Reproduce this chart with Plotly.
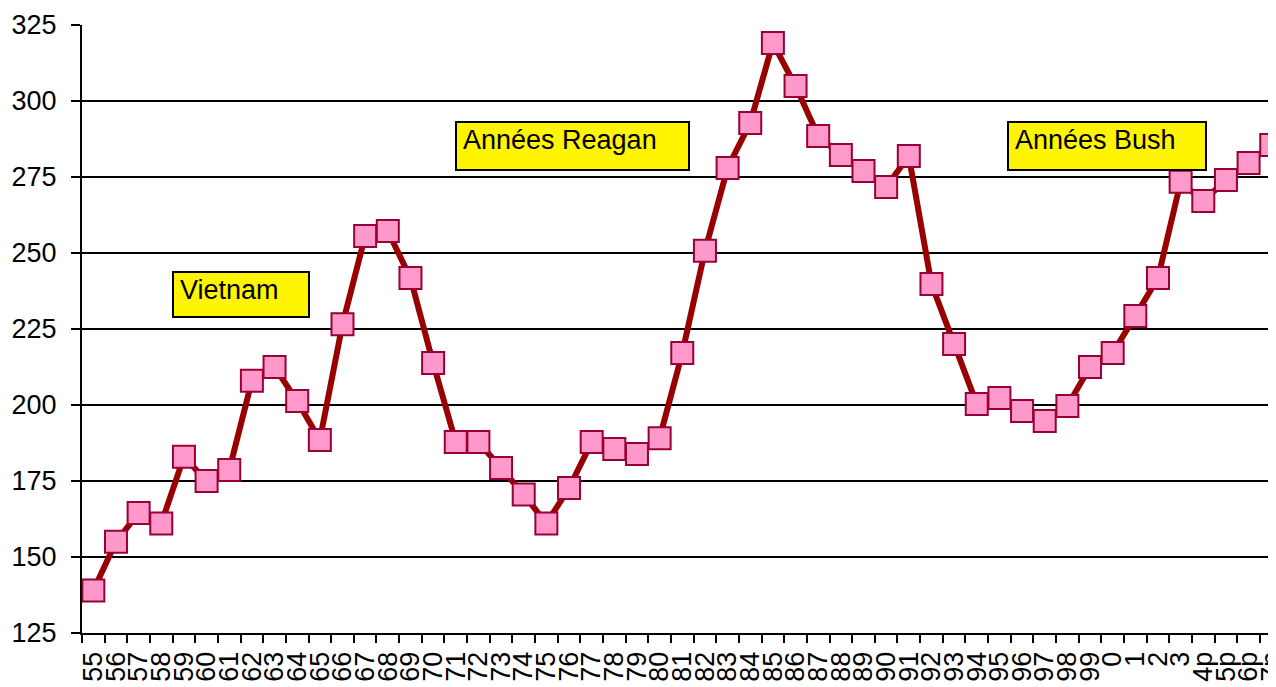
import plotly.graph_objects as go

years = ["55","56","57","58","59","60","61","62","63","64","65","66","67","68","69",
         "70","71","72","73","74","75","76","77","78","79","80","81","82","83","84",
         "85","86","87","88","89","90","91","92","93","94","95","96","97","98","99",
         "0","1","2","3","4p","5p","6p","7p"]
values = [139, 155, 164.5, 161, 183, 175, 178.6, 208, 212.5, 201.3, 188.5, 226.6, 255.6, 257.2, 241.8,
          213.8, 187.8, 187.8, 179.3, 170.6, 161, 172.7, 187.8, 185.5, 183.9, 189.1, 217.1, 250.7, 278, 292.8,
          319.1, 304.9, 288.5, 282.2, 277, 271.7, 281.9, 239.8, 220.1, 200.3, 202.3, 198, 194.7, 199.7, 212.5,
          217.1, 229.3, 241.8, 273.4, 267.1, 274, 279.6, 285.5]
y_ticks = [125, 150, 175, 200, 225, 250, 275, 300, 325]
labels = ["Vietnam", "Années Reagan", "Années Bush"]

FONT = "Arial, Liberation Sans, sans-serif"

fig = go.Figure()
fig.add_trace(go.Scatter(
    x=years, y=values, mode="lines+markers",
    line=dict(color="#990000", width=6),
    marker=dict(symbol="square", size=22, color="#FF99CC",
                line=dict(color="#990033", width=2)),
    showlegend=False, cliponaxis=False,
))

# page has an 8px body margin: figure drawn at (8, 8) in the screenshot
OFF = 8
W, H = 1276 - OFF, 687 - OFF
ml, mr, mt, mb = 82 - OFF, 0, 25 - OFF, 54
pw, ph = W - ml - mr, H - mt - mb

def px(x):
    return (x - OFF - ml) / pw

def py(y):
    return 1 - (y - OFF - mt) / ph

boxes = [(173, 272, 136, 45), (456, 122, 233, 48), (1008, 122, 198, 48)]
for (bx, by, bw, bh), txt in zip(boxes, labels):
    fig.add_shape(type="rect", xref="paper", yref="paper",
                  x0=px(bx), x1=px(bx + bw), y0=py(by + bh), y1=py(by),
                  fillcolor="#FFF500", line=dict(color="black", width=2), layer="above")
    fig.add_annotation(xref="paper", yref="paper", x=px(bx + 5), y=py(by + 1),
                       xanchor="left", yanchor="top", text=txt, showarrow=False,
                       font=dict(family=FONT, size=27, color="black"))

fig.update_layout(
    width=W, height=H,
    margin=dict(l=ml, r=mr, t=mt, b=mb, autoexpand=False),
    paper_bgcolor="white", plot_bgcolor="white",
    font=dict(family=FONT, size=27, color="black"),
    xaxis=dict(
        type="category", categoryorder="array", categoryarray=years,
        tickmode="array", tickvals=years, ticktext=years,
        range=[-0.5, 52.21], automargin=False, tickson="boundaries",
        tickangle=-90, ticks="outside", ticklen=8, tickwidth=2, tickcolor="black",
        ticklabelstandoff=6,
        showgrid=False, showline=True, linecolor="black", linewidth=2,
        zeroline=False, tickfont=dict(size=27),
    ),
    yaxis=dict(
        range=[125, 325], tickvals=y_ticks, automargin=False,
        ticks="outside", ticklen=9, tickwidth=2, tickcolor="black",
        ticklabelstandoff=9,
        showgrid=True, gridcolor="black", gridwidth=2,
        showline=True, linecolor="black", linewidth=2,
        zeroline=False, tickfont=dict(size=27),
    ),
)

fig.write_html("out.html")
